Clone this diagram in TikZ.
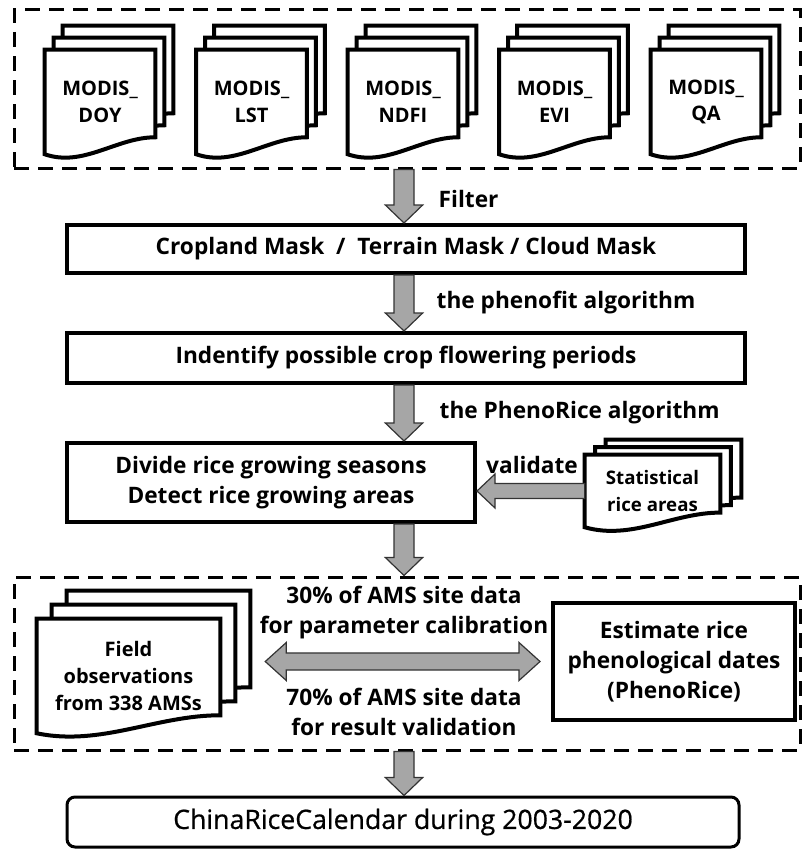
\documentclass[tikz,border=0pt]{standalone}
\usepackage{fontspec}
\setmainfont{Open Sans}
\newfontfamily\calfont[FakeBold=0.7]{Open Sans}
\usetikzlibrary{calc,backgrounds}

\newcommand{\pxl}{0.75pt}

% stack of three pages behind a node: node, x step, y step, rise of wavy edge
\newcommand{\docstack}[4]{%
  \begin{scope}[on background layer]
    \foreach \k in {2,1,0}{
      \draw[page]
        let \p1=(#1.north west), \p2=(#1.south east), \p3=({\k*#2},{\k*#3}) in
        (\x1+\x3,\y1+\y3) -- (\x2+\x3,\y1+\y3) -- (\x2+\x3,\y2+\y3+#4)
        .. controls ({\x2+\x3-0.35*(\x2-\x1)},\y2+\y3+#4) and ({\x1+\x3+0.35*(\x2-\x1)},\y2+\y3-10pt) ..
        (\x1+\x3,\y2+\y3) -- cycle;
    }
  \end{scope}}

% grey block arrows
\newcommand{\fatdown}[2]{%
  \draw[fat] let \p1=(#1), \p2=(#2) in
    (\x1-7.5pt,\y1) -- (\x1+7.5pt,\y1) -- (\x1+7.5pt,\y2+13.5pt) -- (\x1+14pt,\y2+13.5pt)
    -- (\x1,\y2) -- (\x1-14pt,\y2+13.5pt) -- (\x1-7.5pt,\y2+13.5pt) -- cycle;}
\newcommand{\fatleft}[2]{%
  \draw[fat] let \p1=(#1), \p2=(#2) in
    (\x1,\y1-5.6pt) -- (\x2+13.5pt,\y1-5.6pt) -- (\x2+13.5pt,\y1-12.75pt) -- (\x2,\y1)
    -- (\x2+13.5pt,\y1+12.75pt) -- (\x2+13.5pt,\y1+5.6pt) -- (\x1,\y1+5.6pt) -- cycle;}
\newcommand{\fatboth}[2]{%
  \draw[fat] let \p1=(#1), \p2=(#2) in
    (\x1,\y1) -- (\x1+15.75pt,\y1-14.25pt) -- (\x1+15.75pt,\y1-6.4pt) -- (\x2-15.75pt,\y1-6.4pt)
    -- (\x2-15.75pt,\y1-14.25pt) -- (\x2,\y1) -- (\x2-15.75pt,\y1+14.25pt) -- (\x2-15.75pt,\y1+6.4pt)
    -- (\x1+15.75pt,\y1+6.4pt) -- (\x1+15.75pt,\y1+14.25pt) -- cycle;}

\begin{document}
\begin{tikzpicture}[x=0.75pt, y=-0.75pt]

  \tikzstyle{dashbox} = [draw, line width=2.25pt, dash pattern=on 11pt off 7pt, inner sep=0pt]
  \tikzstyle{box}     = [draw, line width=3pt, inner sep=0pt, align=center]
  \tikzstyle{page}    = [draw, fill=white, line width=3pt, line join=miter]
  \tikzstyle{fat}     = [draw=black!80, fill=gray!70, line width=0.9pt, line join=miter]
  \tikzstyle{txt}     = [font=\fontsize{17}{22.5}\selectfont\bfseries, align=center]
  \tikzstyle{small}   = [font=\fontsize{15}{20}\selectfont\bfseries, align=center, inner sep=0pt]

  \useasboundingbox (0,0) rectangle (802,849);
  \coordinate (spine) at (404,0);

  % ---- INPUT DATA ----
  \node[dashbox, minimum width=786*\pxl, minimum height=158*\pxl] (inputs) at (407,89) {};
  \foreach \nm/\lbl [count=\i from 0] in {doy/DOY, lst/LST, ndfi/NDFI, evi/EVI, qa/QA}{
    \node[small, minimum width=110*\pxl, minimum height=104*\pxl] (\nm) at (100+151.5*\i,102) {MODIS\_\\\lbl};
    \docstack{\nm}{9}{-12}{12.75pt}
  }

  % ---- MASKS AND PHENOLOGY STEPS ----
  \node[box, txt, minimum width=678*\pxl, minimum height=48*\pxl] (crop) at (406,249)
    {Cropland Mask~ /~ Terrain Mask / Cloud Mask};
  \node[box, txt, minimum width=678*\pxl, minimum height=50*\pxl] (flower) at (406,358)
    {Indentify possible crop flowering periods};
  \node[box, txt, minimum width=408*\pxl, minimum height=79*\pxl] (season) at (271,482.5)
    {Divide rice growing seasons\\Detect rice growing areas};

  % statistics used for validation
  \node[small, font=\fontsize{14}{20}\selectfont\bfseries, minimum width=135*\pxl, minimum height=72*\pxl]
    (stats) at (652.5,491) {Statistical\\rice areas};
  \docstack{stats}{10.5}{-7.5}{11pt}

  % ---- CALIBRATION / VALIDATION ----
  \node[dashbox, minimum width=786*\pxl, minimum height=173*\pxl] (calib) at (407,663.5) {};
  \node[small, minimum width=183*\pxl, minimum height=114*\pxl] (field) at (128.5,676)
    {Field\\observations\\from 338 AMSs};
  \docstack{field}{15}{-14}{13.5pt}
  \node[box, txt, minimum width=242*\pxl, minimum height=117*\pxl] (pheno) at (674,661.5)
    {Estimate rice\\phenological dates\\(PhenoRice)};

  % ---- OUTPUT ----
  \node[box, rounded corners=6pt, line width=2.25pt, minimum width=672*\pxl, minimum height=50*\pxl,
    font=\calfont\fontsize{20}{24}\selectfont] (calendar) at (403,822) {ChinaRiceCalendar during 2003-2020};

  % ---- LABELS ----
  \node[txt, anchor=west] (filter) at (434,199) {Filter};
  \node[txt, anchor=west] (fit) at (432,303) {the phenofit algorithm};
  \node[txt, anchor=west] (price) at (435,413) {the PhenoRice algorithm};
  \node[txt] (valid) at (532,465) {validate};
  \node[txt] (train) at (404,613) {30\% of AMS site data\\for parameter calibration};
  \node[txt] (test) at (404,712) {70\% of AMS site data\\for result validation};

  % ---- ARROWS ----
  \fatdown{spine |- inputs.south}{spine |- crop.north}
  \fatdown{spine |- crop.south}{spine |- flower.north}
  \fatdown{spine |- flower.south}{spine |- season.north}
  \fatdown{spine |- season.south}{spine |- calib.north}
  \fatdown{spine |- calib.south}{spine |- calendar.north}
  \fatleft{stats.west}{stats.west -| season.east}
  \fatboth{$(pheno.west -| field.east)+(45,0)$}{$(pheno.west)+(-11,0)$}

\end{tikzpicture}
\end{document}
